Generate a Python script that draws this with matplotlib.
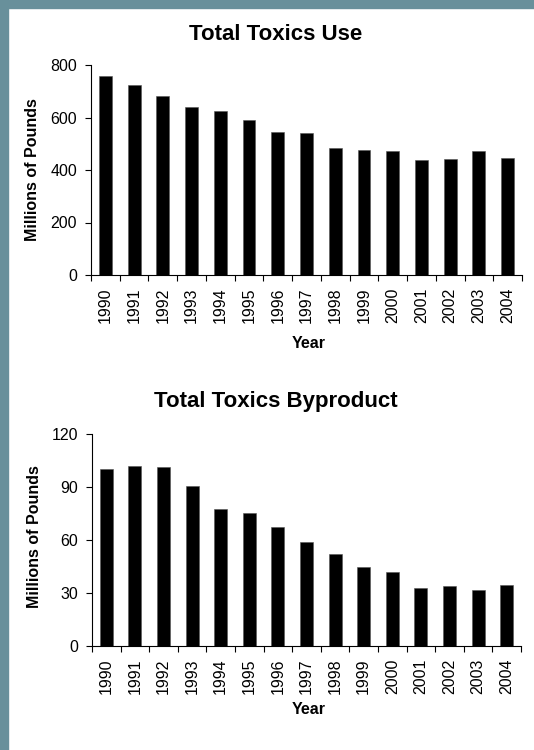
import numpy as np
import matplotlib
matplotlib.use('Agg')
import matplotlib.pyplot as plt
from matplotlib.patches import Rectangle
from matplotlib.ticker import MultipleLocator, FixedLocator

plt.rcParams['font.family'] = ['Liberation Sans', 'DejaVu Sans']

#%% Data
years = [str(y) for y in range(1990, 2005)]

# millions of pounds
toxics_use = [758, 724, 682, 640, 624, 590, 546, 542, 485, 476, 472, 438, 441, 472, 444]
toxics_byproduct = [100.0, 101.9, 101.5, 90.6, 77.4, 75.1, 67.2, 59.1, 52.1, 44.9, 41.7,
                    32.8, 33.8, 31.9, 34.7]

#%% Layout
W, H = 534, 750
fig = plt.figure(figsize=(W / 100, H / 100), dpi=100)
fig.patch.set_facecolor('white')

# slide border on the left and top edge
border = '#68909B'
fig.patches.append(Rectangle((0, 0), 8 / W, 1, transform=fig.transFigure,
                             color=border, zorder=0))
fig.patches.append(Rectangle((0, 1 - 8 / H), 1, 8 / H, transform=fig.transFigure,
                             color=border, zorder=0))


def px_box(left, top, right, bottom):
    return [left / W, 1 - bottom / H, (right - left) / W, (bottom - top) / H]


def bar_panel(box, values, ymax, ystep, title, title_xy, ylab_xy, xlab_xy):
    ax = fig.add_axes(px_box(*box))
    x = np.arange(len(years))
    ax.bar(x, values, width=0.45, color='black', edgecolor='#555555', linewidth=0.4)
    ax.set_xlim(-0.5, len(years) - 0.5)
    ax.set_ylim(0, ymax)
    ax.yaxis.set_major_locator(MultipleLocator(ystep))

    # labels at bar centres, tick marks between categories
    ax.set_xticks(x)
    ax.set_xticklabels(years, rotation=90)
    ax.xaxis.set_minor_locator(FixedLocator(np.arange(-0.5, len(years), 1.0)))
    ax.tick_params(axis='x', which='major', length=0, pad=9, labelsize=11.5)
    ax.tick_params(axis='x', which='minor', length=4, width=0.8, direction='out')
    ax.tick_params(axis='y', length=4, width=0.8, direction='out', pad=6, labelsize=11.5)

    for s in ['top', 'right']:
        ax.spines[s].set_visible(False)
    for s in ['left', 'bottom']:
        ax.spines[s].set_linewidth(0.8)

    fig.text(title_xy[0] / W, 1 - title_xy[1] / H, title, ha='center', va='center',
             fontsize=16, fontweight='bold')
    fig.text(ylab_xy[0] / W, 1 - ylab_xy[1] / H, 'Millions of Pounds', rotation=90,
             ha='center', va='center', fontsize=11.5, fontweight='bold')
    fig.text(xlab_xy[0] / W, 1 - xlab_xy[1] / H, 'Year', ha='center', va='center',
             fontsize=11.5, fontweight='bold')
    return ax


bar_panel((91, 65, 522, 275), toxics_use, 800, 200, 'Total Toxics Use',
          (276, 35), (33, 170), (309, 343))
bar_panel((92, 434, 521, 646), toxics_byproduct, 120, 30, 'Total Toxics Byproduct',
          (276, 402), (35, 537), (309, 710))

fig.savefig('out.png', dpi=100)
